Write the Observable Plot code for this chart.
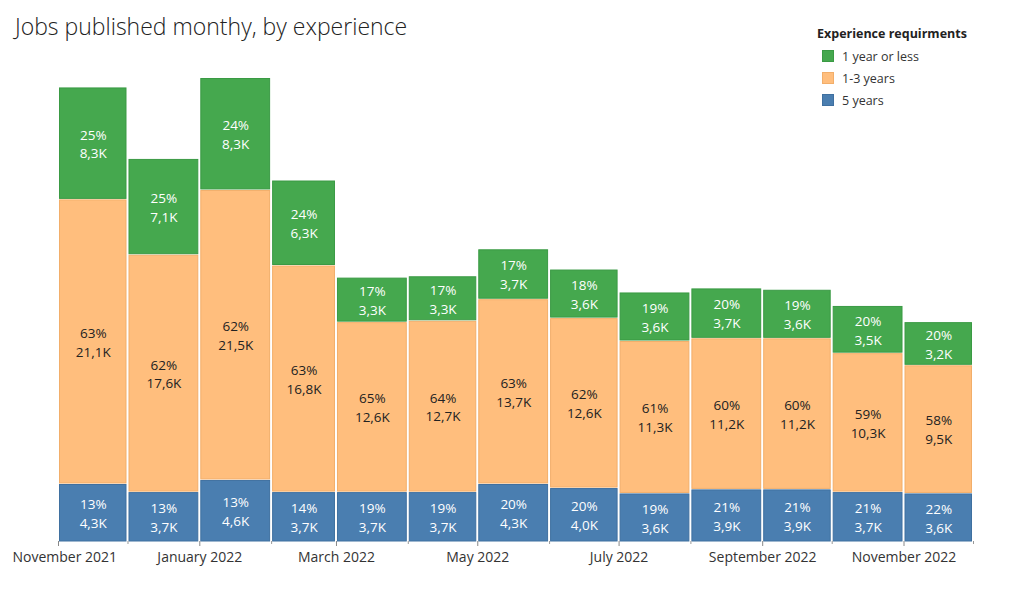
<!DOCTYPE html>
<html>
<head>
<meta charset="utf-8">
<script src="https://cdn.jsdelivr.net/npm/d3@7"></script>
<script src="https://cdn.jsdelivr.net/npm/@observablehq/plot@0.6"></script>
<style>
  body { margin: 0; background: #fff; font-family: "Open Sans", sans-serif; }
  #wrap { position: relative; width: 1022px; height: 600px; }
  #title { position: absolute; left: 15px; top: 10px; font-size: 23px; font-weight: 300; color: #222; white-space: nowrap; }
  #legend { position: absolute; left: 817px; top: 25px; font-size: 12.5px; color: #333; }
  #legend .lt { font-weight: 700; color: #222; margin-bottom: 3px; }
  #legend .it { display: flex; align-items: center; height: 22px; margin-left: 5px; }
  #legend .sw { width: 10px; height: 10px; margin-right: 8px; border: 1px solid; }
  #chart { position: absolute; left: 0; top: 0; }
</style>
</head>
<body>
<div id="wrap">
  <div id="chart"></div>
  <div id="title">Jobs published monthy, by experience</div>
  <div id="legend"></div>
</div>
<script>
// ---- data ----
const months = ["2021-11","2021-12","2022-01","2022-02","2022-03","2022-04","2022-05","2022-06","2022-07","2022-08","2022-09","2022-10","2022-11"];
const fiveYears      = [4.3, 3.7, 4.6, 3.7, 3.7, 3.7, 4.3, 4.0, 3.6, 3.9, 3.9, 3.7, 3.6];
const oneToThree     = [21.1, 17.6, 21.5, 16.8, 12.6, 12.7, 13.7, 12.6, 11.3, 11.2, 11.2, 10.3, 9.5];
const oneYearOrLess  = [8.3, 7.1, 8.3, 6.3, 3.3, 3.3, 3.7, 3.6, 3.6, 3.7, 3.6, 3.5, 3.2];
const pctFive        = [13, 13, 13, 14, 19, 19, 20, 20, 19, 21, 21, 21, 22];
const pctOneToThree  = [63, 62, 62, 63, 65, 64, 63, 62, 61, 60, 60, 59, 58];
const pctOneYear     = [25, 25, 24, 24, 17, 17, 17, 18, 19, 20, 19, 20, 20];
const categories     = ["5 years", "1-3 years", "1 year or less"];
const legendOrder    = ["1 year or less", "1-3 years", "5 years"];
const colors         = {"5 years": "#4a7eb0", "1-3 years": "#ffbe7d", "1 year or less": "#45a84e"};
const borders        = {"5 years": "#3f70a0", "1-3 years": "#f2ae6a", "1 year or less": "#3a9a44"};
const textColors     = {"5 years": "#ffffff", "1-3 years": "#222222", "1 year or less": "#ffffff"};
const legendTitle    = "Experience requirments";

// ---- build stacked rows ----
const parse = d3.utcParse("%Y-%m");
const series = {"5 years": [fiveYears, pctFive], "1-3 years": [oneToThree, pctOneToThree], "1 year or less": [oneYearOrLess, pctOneYear]};
const rows = [];
const totals = [];
months.forEach((m, i) => {
  const start = parse(m);
  const end = d3.utcMonth.offset(start, 1);
  let acc = 0;
  for (const c of categories) {
    const v = series[c][0][i];
    rows.push({start, end, cat: c, y1: acc, y2: acc + v, value: v, pct: series[c][1][i]});
    acc += v;
  }
  totals.push(acc);
});
const fmtK = v => d3.format(".1f")(v).replace(".", ",") + "K";

const domainStart = parse(months[0]);
const domainEnd = d3.utcMonth.offset(parse(months[months.length - 1]), 1);
const allTicks = d3.utcMonth.range(domainStart, d3.utcMonth.offset(domainEnd, 1));
const majorTicks = allTicks.filter((d, i) => i % 2 === 0 && d < domainEnd);
const minorTicks = allTicks.filter((d, i) => i % 2 === 1 || +d === +domainEnd);
const fmtDate = d3.utcFormat("%B %Y");

const plot = Plot.plot({
  width: 1022,
  height: 600,
  marginTop: 77,
  marginBottom: 59,
  marginLeft: 58,
  marginRight: 49,
  style: {fontFamily: "Open Sans, sans-serif", fontSize: "13px", background: "transparent"},
  x: {type: "utc", domain: [domainStart, domainEnd], axis: null},
  y: {domain: [0, d3.max(totals)], axis: null},
  color: {type: "identity"},
  marks: [
    Plot.rectY(rows, {
      x1: "start", x2: "end", y1: "y1", y2: "y2",
      fill: d => colors[d.cat], stroke: d => borders[d.cat], strokeWidth: 1,
      insetLeft: 1.5, insetRight: 1.5, insetTop: 1.5
    }),
    Plot.text(rows, {
      x: d => new Date((+d.start + +d.end) / 2),
      y: d => (d.y1 + d.y2) / 2,
      text: d => `${d.pct}%\n${fmtK(d.value)}`,
      fill: d => textColors[d.cat],
      lineHeight: 1.4,
      fontSize: 13.5
    }),
    Plot.axisX({ticks: minorTicks, tickSize: 3, tickFormat: () => "", stroke: "#999"}),
    Plot.axisX({ticks: majorTicks, tickSize: 5, tickFormat: () => "", stroke: "#888"}),
    Plot.axisX({ticks: majorTicks.slice(1), tickSize: 0, tickPadding: 11, tickFormat: fmtDate, fontSize: 14, fill: "#333"}),
    Plot.axisX({ticks: majorTicks.slice(0, 1), tickSize: 0, tickPadding: 11, tickFormat: fmtDate, fontSize: 14, fill: "#333", textAnchor: "start", dx: -46})
  ]
});
document.getElementById("chart").appendChild(plot);

// ---- legend ----
const lg = document.getElementById("legend");
const t = document.createElement("div");
t.className = "lt"; t.textContent = legendTitle; lg.appendChild(t);
for (const c of legendOrder) {
  const it = document.createElement("div"); it.className = "it";
  const sw = document.createElement("span"); sw.className = "sw";
  sw.style.background = colors[c]; sw.style.borderColor = borders[c];
  const lb = document.createElement("span"); lb.textContent = c;
  it.appendChild(sw); it.appendChild(lb); lg.appendChild(it);
}
</script>
</body>
</html>
